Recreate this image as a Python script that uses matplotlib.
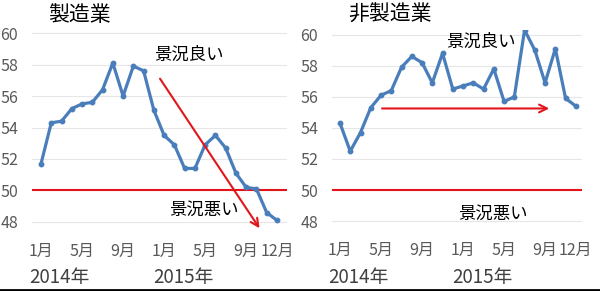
import matplotlib.pyplot as plt
from matplotlib.lines import Line2D

plt.rcParams['font.family'] = ['Noto Sans CJK JP', 'DejaVu Sans']

months = list(range(24))
tick_pos = [0, 4, 8, 12, 16, 20, 23]
tick_labels = ["1月", "5月", "9月", "1月", "5月", "9月", "12月"]
year_labels = ["2014年", "2015年"]
y_ticks = [48, 50, 52, 54, 56, 58, 60]

manufacturing = [51.7, 54.3, 54.4, 55.2, 55.5, 55.6, 56.4, 58.1, 56.0, 57.9,
                 57.6, 55.1, 53.5, 52.9, 51.4, 51.4, 52.9, 53.5, 52.7, 51.1,
                 50.2, 50.1, 48.6, 48.1]
non_manufacturing = [54.3, 52.5, 53.7, 55.3, 56.1, 56.4, 57.9, 58.6, 58.2, 56.9,
                     58.8, 56.5, 56.7, 56.9, 56.5, 57.8, 55.7, 56.0, 60.3, 59.0,
                     56.9, 59.1, 55.9, 55.4]

BLUE = "#4a7ebb"
RED = "#e3151b"
W, H = 600, 291


def panel(rect, xlim, ylim, values, title, good_xy, bad_xy, arrow):
    x0, y0, x1, y1 = rect
    ax = fig.add_axes([x0 / W, 1 - y1 / H, (x1 - x0) / W, (y1 - y0) / H])
    ax.set_xlim(*xlim)
    ax.set_ylim(*ylim)
    ax.plot(months, values, color=BLUE, lw=2.3, marker="o", ms=3.2,
            solid_joinstyle="round", zorder=3)
    ax.axhline(50, color=RED, lw=1.5, zorder=2)
    ax.set_yticks(y_ticks)
    ax.set_xticks(tick_pos)
    ax.set_xticklabels(tick_labels)
    ax.grid(axis="y", color="#e6e6e6", lw=0.8)
    ax.set_axisbelow(True)
    for s in ax.spines.values():
        s.set_visible(False)
    ax.tick_params(length=0, labelsize=11.5, colors="#595959")
    ax.tick_params(axis="y", pad=10)
    ax.tick_params(axis="x", pad=7)
    ax.text(good_xy[0], good_xy[1], "景況良い", fontsize=12.5,
            ha="center", va="center")
    ax.text(bad_xy[0], bad_xy[1], "景況悪い", fontsize=12.5,
            ha="center", va="center")
    ax.annotate("", xy=arrow[1], xytext=arrow[0],
                arrowprops=dict(arrowstyle="->", color=RED, lw=1.5,
                                mutation_scale=14, shrinkA=0, shrinkB=0),
                annotation_clip=False)
    # year labels sit below the month ticks
    yfrac = -(277 - y1) / (y1 - y0)
    ax.text(1.75, yfrac, year_labels[0], transform=ax.get_xaxis_transform(),
            fontsize=13.5, color="#404040", ha="center", va="center")
    ax.text(13.9, yfrac, year_labels[1], transform=ax.get_xaxis_transform(),
            fontsize=13.5, color="#404040", ha="center", va="center")
    fig.text(x0 / W + 0.027, 1 - 15 / H, title, fontsize=15,
             ha="left", va="center")
    return ax


fig = plt.figure(figsize=(6, 2.91), dpi=100)

panel((32, 28.3, 287, 233), (-0.88, 23.98), (47.3, 60.3), manufacturing,
      "製造業", (14.4, 58.6), (15.9, 48.75),
      ((11.6, 57.1), (21.3, 47.6)))
panel((332, 30, 582, 232), (-0.78, 23.6), (47.3, 60.3), non_manufacturing,
      "非製造業", (13.7, 59.55), (14.9, 48.5),
      ((4.1, 55.25), (20.4, 55.25)))

fig.add_artist(Line2D([0, 1], [0.003, 0.003], color="black", lw=2,
                      transform=fig.transFigure))

fig.savefig("out.png", dpi=100)
